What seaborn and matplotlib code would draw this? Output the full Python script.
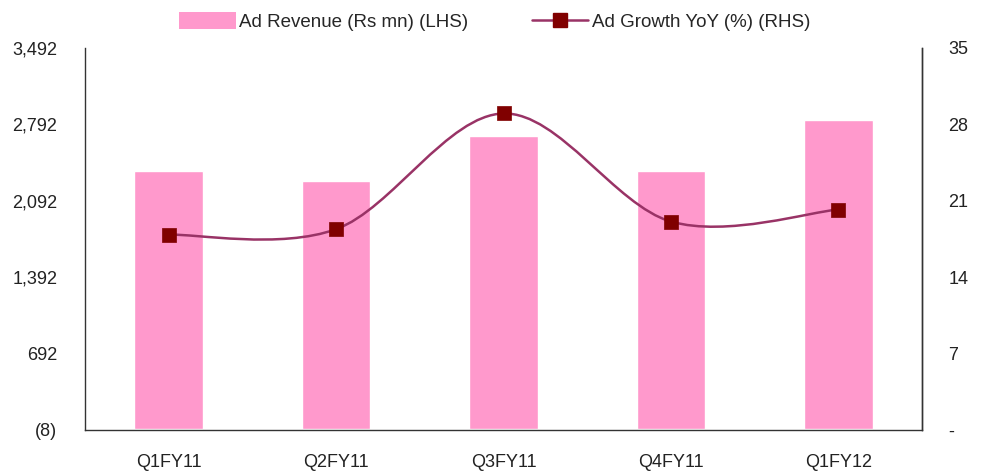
import numpy as np
import pandas as pd
import matplotlib
matplotlib.use("Agg")
import matplotlib.pyplot as plt
import seaborn as sns
from matplotlib.path import Path
from matplotlib.patches import PathPatch, Patch
from matplotlib.lines import Line2D
from matplotlib.ticker import FuncFormatter, FixedLocator

# --- data ---
quarters = ["Q1FY11", "Q2FY11", "Q3FY11", "Q4FY11", "Q1FY12"]
ad_revenue = [2362, 2271, 2690, 2362, 2836]      # Rs mn (LHS)
ad_growth = [17.9, 18.4, 29.0, 19.1, 20.2]       # % YoY (RHS)

left_ticks = [-8, 692, 1392, 2092, 2792, 3492]
right_ticks = [0, 7, 14, 21, 28, 35]

BAR_COLOR = "#FF99CC"
LINE_COLOR = "#993366"
MARKER_COLOR = "#800000"

sns.set_theme(style="white")
plt.rcParams["font.family"] = ["Liberation Sans Narrow", "Liberation Sans", "DejaVu Sans"]
plt.rcParams["font.size"] = 13

df = pd.DataFrame({"quarter": quarters, "revenue": ad_revenue, "growth": ad_growth})

fig = plt.figure(figsize=(9.84, 4.75), dpi=100)
ax = fig.add_axes([85 / 984, 45 / 475, 837 / 984, 382 / 475])

sns.barplot(data=df, x="quarter", y="revenue", color=BAR_COLOR, width=0.41,
            saturation=1, ax=ax)
ax.set_xlim(-0.5, len(quarters) - 0.5)
ax.set_ylim(left_ticks[0], left_ticks[-1])
ax.set_xlabel("")
ax.set_ylabel("")


def paren_fmt(v, pos):
    v = int(round(v))
    return f"({abs(v):,})" if v < 0 else f"{v:,}"


ax.yaxis.set_major_locator(FixedLocator(left_ticks))
ax.yaxis.set_major_formatter(FuncFormatter(paren_fmt))
ax.tick_params(axis="y", length=0, pad=20, labelsize=13, colors="#222222")
ax.tick_params(axis="x", which="major", length=0, pad=17, labelsize=13, colors="#222222")
ax.set_xticks(np.arange(-0.5, len(quarters), 1.0), minor=True)
ax.tick_params(axis="x", which="minor", length=6, width=1, color="#333333", direction="out")

for side in ["left", "bottom", "right"]:
    ax.spines[side].set_color("#333333")
    ax.spines[side].set_linewidth(1)
ax.spines["top"].set_visible(False)

ax2 = ax.twinx()
ax2.set_ylim(right_ticks[0], right_ticks[-1])
ax2.yaxis.set_major_locator(FixedLocator(right_ticks))
ax2.yaxis.set_major_formatter(FuncFormatter(lambda v, p: "-" if v == 0 else f"{int(v)}"))
ax2.tick_params(axis="y", length=0, pad=19, labelsize=13, colors="#222222")
ax2.spines["top"].set_visible(False)
ax2.spines["left"].set_visible(False)
ax2.spines["bottom"].set_visible(False)
ax2.spines["right"].set_color("#333333")
ax2.spines["right"].set_linewidth(1)

# smoothed line (Catmull-Rom style Bezier, like a spreadsheet "smooth line")
xs = np.arange(len(quarters), dtype=float)
ys = np.array(ad_growth, dtype=float)
pts = np.column_stack([xs, ys])
verts = [tuple(pts[0])]
codes = [Path.MOVETO]
n = len(pts)
for i in range(n - 1):
    p0 = pts[max(i - 1, 0)]
    p1 = pts[i]
    p2 = pts[i + 1]
    p3 = pts[min(i + 2, n - 1)]
    c1 = p1 + (p2 - p0) / 6.0
    c2 = p2 - (p3 - p1) / 6.0
    verts += [tuple(c1), tuple(c2), tuple(p2)]
    codes += [Path.CURVE4] * 3
ax2.add_patch(PathPatch(Path(verts, codes), facecolor="none", edgecolor=LINE_COLOR,
                        lw=1.8, zorder=3))

sns.scatterplot(x=xs, y=ys, marker="s", s=90, color=MARKER_COLOR,
                edgecolor=MARKER_COLOR, linewidth=0.5, ax=ax2, zorder=4, legend=False)
ax2.set_xlim(-0.5, len(quarters) - 0.5)

handles = [
    Patch(facecolor=BAR_COLOR, edgecolor="none", label="Ad Revenue (Rs mn) (LHS)"),
    Line2D([0], [0], color=LINE_COLOR, lw=1.8, marker="s", markersize=9.5,
           markerfacecolor=MARKER_COLOR, markeredgecolor=MARKER_COLOR,
           label="Ad Growth YoY (%) (RHS)"),
]
fig.legend(handles=handles, loc="upper center", bbox_to_anchor=(0.503, 1.0), ncol=2,
           frameon=False, fontsize=13.5, handlelength=3.0, handleheight=1.0,
           handletextpad=0.2, columnspacing=3.4, borderaxespad=0.25)

fig.savefig("out.png", dpi=100)
